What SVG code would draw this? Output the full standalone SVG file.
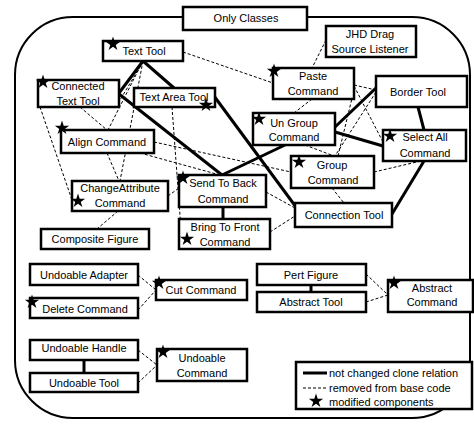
<svg xmlns="http://www.w3.org/2000/svg" width="474" height="426" viewBox="0 0 474 426">
<defs>
<style>
.box{fill:#fff;stroke:#000;stroke-width:2.5}
.t{font-family:"Liberation Sans",Arial,sans-serif;font-size:11px;fill:#000;text-anchor:middle}
.tl{font-family:"Liberation Sans",Arial,sans-serif;font-size:11px;fill:#000}
.solid{stroke:#000;stroke-width:3;fill:none}
.dash{stroke:#000;stroke-width:1;stroke-dasharray:3,2;fill:none}
</style>
<path id="star" d="M0,-7.5 L1.69,-2.32 L7.13,-2.32 L2.73,0.89 L4.41,6.07 L0,2.87 L-4.41,6.07 L-2.73,0.89 L-7.13,-2.32 L-1.69,-2.32 Z" fill="#000"/>
</defs>
<rect width="474" height="426" fill="#fff"/>
<rect x="15" y="17" width="455" height="401" rx="58" ry="58" fill="none" stroke="#000" stroke-width="2"/>
<g id="connectors">
<line class="solid" x1="143" y1="61" x2="119" y2="93"/>
<line class="solid" x1="143" y1="61" x2="174" y2="88"/>
<line class="solid" x1="119" y1="94" x2="222" y2="175"/>
<line class="solid" x1="214" y1="96" x2="296" y2="207"/>
<line class="solid" x1="222" y1="175" x2="285" y2="145"/>
<line class="solid" x1="335" y1="127" x2="376" y2="88"/>
<line class="solid" x1="335" y1="132" x2="383" y2="146"/>
<line class="solid" x1="418" y1="107" x2="424" y2="130"/>
<line class="solid" x1="424" y1="161" x2="392" y2="214"/>
<line class="solid" x1="223" y1="207" x2="223" y2="219"/>
<line class="solid" x1="84" y1="360" x2="84" y2="373"/>
<line class="solid" x1="311" y1="285" x2="311" y2="292"/>
<line class="dash" x1="183" y1="52" x2="273" y2="83"/>
<line class="dash" x1="326" y1="40" x2="312" y2="68"/>
<line class="dash" x1="312" y1="99" x2="294" y2="113"/>
<line class="dash" x1="354" y1="85" x2="376" y2="90"/>
<line class="dash" x1="354" y1="86" x2="383" y2="142"/>
<line class="dash" x1="354" y1="90" x2="338" y2="156"/>
<line class="dash" x1="376" y1="92" x2="335" y2="156"/>
<line class="dash" x1="305" y1="145" x2="334" y2="156"/>
<line class="dash" x1="374" y1="172" x2="421" y2="161"/>
<line class="dash" x1="332" y1="188" x2="344" y2="203"/>
<line class="dash" x1="154" y1="142" x2="291" y2="172"/>
<line class="dash" x1="140" y1="153" x2="220" y2="175"/>
<line class="dash" x1="107" y1="153" x2="119" y2="181"/>
<line class="dash" x1="143" y1="61" x2="120" y2="181"/>
<line class="dash" x1="80" y1="107" x2="107" y2="130"/>
<line class="dash" x1="143" y1="61" x2="108" y2="130"/>
<line class="dash" x1="143" y1="62" x2="120" y2="100"/>
<line class="dash" x1="40" y1="107" x2="72" y2="200"/>
<line class="dash" x1="172" y1="107" x2="181" y2="229"/>
<line class="dash" x1="118" y1="211" x2="97" y2="229"/>
<line class="dash" x1="168" y1="196" x2="179" y2="188"/>
<line class="dash" x1="266" y1="192" x2="295" y2="208"/>
<line class="dash" x1="270" y1="232" x2="295" y2="216"/>
<line class="dash" x1="138" y1="275" x2="156" y2="290"/>
<line class="dash" x1="138" y1="310" x2="156" y2="290"/>
<line class="dash" x1="138" y1="350" x2="157" y2="365"/>
<line class="dash" x1="138" y1="383" x2="157" y2="365"/>
<line class="dash" x1="366" y1="274" x2="388" y2="295"/>
<line class="dash" x1="366" y1="302" x2="388" y2="295"/>
</g>
<g id="only-classes"><rect class="box" x="183" y="7" width="124" height="23"/><text class="t" x="246" y="22">Only Classes</text></g>
<g id="text-tool"><rect class="box" x="103" y="41" width="80" height="20"/><text class="t" x="144" y="55">Text Tool</text><use href="#star" x="113" y="44"/></g>
<g id="connected-text-tool"><rect class="box" x="38" y="80" width="81" height="27"/><text class="t" x="78" y="90">Connected</text><text class="t" x="78" y="105">Text Tool</text><use href="#star" x="43" y="82"/></g>
<g id="text-area-tool"><rect class="box" x="134" y="88" width="81" height="19"/><text class="t" x="174" y="101">Text Area Tool</text><use href="#star" x="206" y="105"/></g>
<g id="align-command"><rect class="box" x="61" y="130" width="93" height="23"/><text class="t" x="107" y="146">Align Command</text><use href="#star" x="62" y="128"/></g>
<g id="change-attribute-command"><rect class="box" x="72" y="181" width="96" height="30"/><text class="t" x="120" y="192">ChangeAttribute</text><text class="t" x="120" y="207">Command</text><use href="#star" x="78" y="201"/></g>
<g id="composite-figure"><rect class="box" x="41" y="229" width="108" height="20"/><text class="t" x="95" y="243">Composite Figure</text></g>
<g id="send-to-back-command"><rect class="box" x="179" y="175" width="87" height="32"/><text class="t" x="223" y="187">Send To Back</text><text class="t" x="223" y="203">Command</text><use href="#star" x="183" y="178"/></g>
<g id="bring-to-front-command"><rect class="box" x="179" y="219" width="91" height="30"/><text class="t" x="225" y="231">Bring To Front</text><text class="t" x="225" y="246">Command</text><use href="#star" x="187" y="239"/></g>
<g id="connection-tool"><rect class="box" x="295" y="203" width="97" height="24"/><text class="t" x="344" y="219">Connection Tool</text></g>
<g id="group-command"><rect class="box" x="291" y="156" width="83" height="32"/><text class="t" x="332" y="169">Group</text><text class="t" x="333" y="184">Command</text><use href="#star" x="299" y="162"/></g>
<g id="select-all-command"><rect class="box" x="383" y="130" width="83" height="31"/><text class="t" x="425" y="141">Select All</text><text class="t" x="425" y="157">Command</text><use href="#star" x="390" y="136"/></g>
<g id="un-group-command"><rect class="box" x="253" y="113" width="82" height="32"/><text class="t" x="294" y="127">Un Group</text><text class="t" x="294" y="141">Command</text><use href="#star" x="259" y="119"/></g>
<g id="border-tool"><rect class="box" x="376" y="76" width="91" height="31"/><text class="t" x="418" y="96">Border Tool</text></g>
<g id="paste-command"><rect class="box" x="273" y="68" width="81" height="31"/><text class="t" x="313" y="80">Paste</text><text class="t" x="313" y="95">Command</text><use href="#star" x="274" y="71"/></g>
<g id="jhd-drag-source-listener"><rect class="box" x="326" y="26" width="90" height="31"/><text class="t" x="370" y="38">JHD Drag</text><text class="t" x="370" y="53">Source Listener</text></g>
<g id="undoable-adapter"><rect class="box" x="30" y="264" width="108" height="21"/><text class="t" x="84" y="279">Undoable Adapter</text></g>
<g id="delete-command"><rect class="box" x="30" y="298" width="108" height="20"/><text class="t" x="85" y="313">Delete Command</text><use href="#star" x="32" y="302"/></g>
<g id="cut-command"><rect class="box" x="156" y="280" width="91" height="20"/><text class="t" x="201" y="294">Cut Command</text><use href="#star" x="159" y="283"/></g>
<g id="undoable-handle"><rect class="box" x="30" y="340" width="108" height="20"/><text class="t" x="84" y="352">Undoable Handle</text></g>
<g id="undoable-tool"><rect class="box" x="30" y="373" width="108" height="19"/><text class="t" x="84" y="387">Undoable Tool</text></g>
<g id="undoable-command"><rect class="box" x="157" y="349" width="90" height="32"/><text class="t" x="202" y="362">Undoable</text><text class="t" x="202" y="377">Command</text><use href="#star" x="163" y="352"/></g>
<g id="pert-figure"><rect class="box" x="257" y="264" width="109" height="21"/><text class="t" x="311" y="279">Pert Figure</text></g>
<g id="abstract-tool"><rect class="box" x="257" y="292" width="109" height="20"/><text class="t" x="311" y="306">Abstract Tool</text></g>
<g id="abstract-command"><rect class="box" x="388" y="280" width="85" height="32"/><text class="t" x="432" y="292">Abstract</text><text class="t" x="432" y="306">Command</text><use href="#star" x="394" y="283"/></g>
<g id="legend">
<rect class="box" x="296" y="362" width="176" height="47"/>
<line class="solid" x1="303" y1="373" x2="327" y2="373"/>
<text class="tl" x="329" y="377">not changed clone relation</text>
<line class="dash" x1="303" y1="388" x2="327" y2="388"/>
<text class="tl" x="329" y="392">removed from base code</text>
<use href="#star" x="316" y="401"/>
<text class="tl" x="329" y="406">modified components</text>
</g>
</svg>
